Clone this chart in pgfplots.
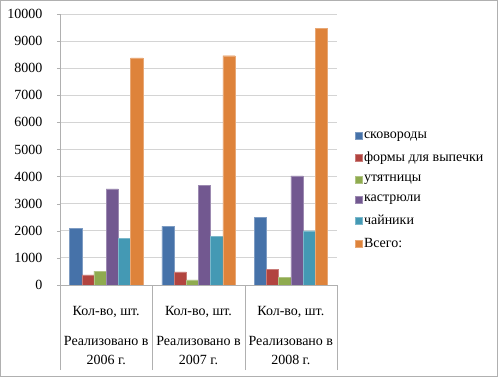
\documentclass[border=0pt]{standalone}
\usepackage{pgfplots}
\pgfplotsset{compat=1.18}
\usepackage{fontspec}
\setmainfont{Liberation Serif}
\definecolor{c1}{HTML}{4672A9}
\definecolor{c2}{HTML}{B2443F}
\definecolor{c3}{HTML}{8FAB4F}
\definecolor{c4}{HTML}{725890}
\definecolor{c5}{HTML}{4499B4}
\definecolor{c6}{HTML}{DE833B}
\definecolor{gridc}{HTML}{D4D4D4}
\definecolor{axc}{HTML}{B0B0B0}
\begin{document}
\begin{tikzpicture}
\begin{axis}[
  at={(0pt,0pt)}, anchor=south west,
  scale only axis, width=277pt, height=271pt,
  xmin=-0.5, xmax=2.5, ymin=0, ymax=10000,
  ybar=0pt, bar width=12.2pt,
  axis x line=bottom, axis y line=left,
  axis line style={-, draw=axc},
  ytick={0,1000,...,10000},
  ymajorgrids, grid style={gridc, line width=0.8pt},
  xtick={0,1,2},
  xticklabels={{Кол-во, шт.\\[11pt]Реализовано в\\2006 г.},{Кол-во, шт.\\[11pt]Реализовано в\\2007 г.},{Кол-во, шт.\\[11pt]Реализовано в\\2008 г.}},
  minor xtick={-0.5,0.5,1.5,2.5},
  tick align=outside,
  major tick length=3pt, minor tick length=85pt,
  major x tick style={draw=none},
  major y tick style={draw=axc},
  minor tick style={draw=axc},
  scaled y ticks=false,
  /pgf/number format/1000 sep={},
  /pgf/number format/assume math mode=true,
  yticklabel style={font=\fontsize{14}{16}\selectfont, xshift=-11pt},
  xticklabel style={font=\fontsize{14}{19}\selectfont, align=center, yshift=-15pt},
  legend style={at={(1.052,0.58)}, anchor=north west, draw=none, fill=none,
    font=\fontsize{14}{16}\selectfont, row sep=8pt},
  legend cell align=left,
  legend image code/.code={\fill[#1] (0pt,-3.5pt) rectangle (7pt,3.5pt);},
]
\addplot[fill=c1, draw=c1!70!white] coordinates {(0,2100) (1,2170) (2,2490)};
\addplot[fill=c2, draw=c2!70!white] coordinates {(0,370) (1,480) (2,580)};
\addplot[fill=c3, draw=c3!70!white] coordinates {(0,515) (1,190) (2,285)};
\addplot[fill=c4, draw=c4!70!white] coordinates {(0,3550) (1,3670) (2,4030)};
\addplot[fill=c5, draw=c5!70!white] coordinates {(0,1710) (1,1800) (2,2000)};
\addplot[fill=c6, draw=c6!70!white] coordinates {(0,8380) (1,8460) (2,9480)};
\legend{сковороды, формы для выпечки, утятницы, кастрюли, чайники, Всего:}
\end{axis}
\draw[axc, line width=1pt] (-59.5pt,-91.5pt) rectangle (437.5pt,284.5pt);
\pgfresetboundingbox
\path (-60pt,-92pt) rectangle (438pt,285pt);
\end{tikzpicture}
\end{document}
